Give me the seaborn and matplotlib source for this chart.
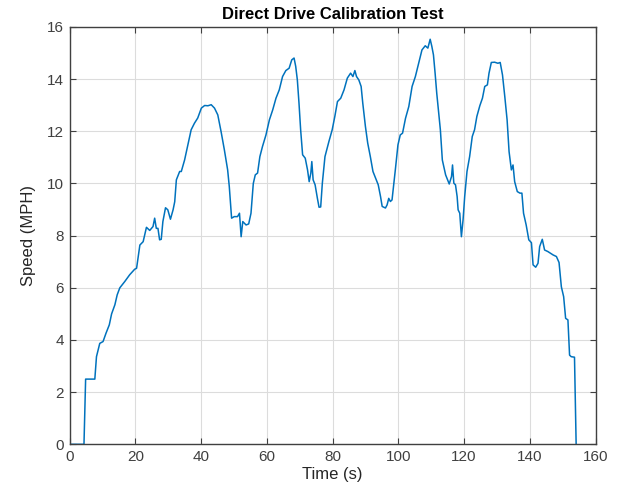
import matplotlib
matplotlib.use("Agg")
import matplotlib.pyplot as plt
import seaborn as sns
import pandas as pd

time_s = [0, 4.4, 4.9, 7.7, 8.2, 9.2, 10.2, 11.1, 12.1, 12.8, 13.8, 14.5, 15.3, 16.8, 18.3, 19.8,
          20.4, 21.4, 22.4, 23.4, 24.4, 25.4, 25.9, 26.4, 26.9, 27.4, 27.9, 28.4, 29.2, 29.9, 30.7,
          31.5, 32.0, 32.5, 33.5, 34.0, 35.0, 36.0, 37.0, 38.0, 39.0, 40.1, 41.1, 42.1, 43.1, 44.1,
          45.1, 46.1, 47.1, 48.1, 48.6, 49.3, 50.1, 51.1, 51.7, 52.2, 52.7, 53.7, 54.5, 55.2, 55.9,
          56.5, 57.2, 57.9, 58.7, 59.75, 60.8, 61.8, 62.8, 63.8, 64.8, 65.8, 66.8, 67.6, 68.3, 68.8,
          69.3, 69.8, 70.3, 70.9, 71.7, 72.4, 72.9, 73.4, 73.7, 74.1, 74.7, 75.4, 75.9, 76.4, 76.9,
          77.7, 78.9, 79.9, 80.7, 81.5, 82.5, 83.5, 84.5, 85.5, 86.2, 86.8, 87.3, 88.0, 88.7, 89.2,
          90.0, 90.7, 91.5, 92.3, 93.1, 93.9, 94.6, 95.1, 96.1, 96.6, 97.1, 97.6, 98.1, 99.1, 99.9,
          100.6, 101.3, 102.2, 103.2, 104.2, 105.2, 106.2, 107.2, 108.2, 109.0, 109.7, 110.2, 110.7,
          111.2, 111.7, 112.3, 112.8, 113.4, 114.4, 115.5, 116.2, 116.5, 116.9, 117.4, 117.9, 118.2,
          118.7, 119.2, 119.7, 120.2, 120.9, 121.7, 122.5, 123.2, 123.9, 124.8, 125.6, 126.3, 127.1,
          127.6, 128.3, 129.3, 130.3, 131.0, 131.7, 132.4, 133.1, 133.7, 134.4, 134.9, 135.4, 136.2,
          137.0, 137.6, 138.1, 138.9, 139.7, 140.5, 141.0, 141.8, 142.5, 143.0, 143.8, 144.5, 145.5,
          147.1, 148.1, 148.9, 149.6, 150.3, 150.9, 151.6, 152.1, 152.6, 153.6, 154.1]
speed_mph = [0, 0, 2.5, 2.5, 3.36, 3.87, 3.94, 4.26, 4.58, 5.0, 5.35, 5.73, 6.0, 6.24, 6.5, 6.71,
             6.75, 7.64, 7.77, 8.32, 8.2, 8.35, 8.67, 8.28, 8.28, 7.84, 7.86, 8.54, 9.07, 8.99, 8.63,
             8.99, 9.3, 10.14, 10.46, 10.46, 10.9, 11.48, 12.06, 12.31, 12.51, 12.89, 12.99, 12.98, 13.02, 12.89,
             12.63, 11.99, 11.29, 10.52, 9.88, 8.67, 8.73, 8.73, 8.86, 7.96, 8.54, 8.41, 8.45, 8.86, 10.0,
             10.33, 10.4, 11.03, 11.42, 11.86, 12.44, 12.82, 13.27, 13.59, 14.1, 14.33, 14.42, 14.74, 14.81, 14.49,
             13.97, 13.08, 12.06, 11.1, 10.97, 10.52, 10.07, 10.4, 10.84, 10.14, 9.95, 9.43, 9.09, 9.1, 10.01,
             11.03, 11.61, 12.06, 12.57, 13.14, 13.27, 13.59, 14.04, 14.23, 14.1, 14.33, 14.1, 13.97, 13.72, 13.08,
             12.19, 11.55, 11.03, 10.46, 10.2, 9.95, 9.5, 9.12, 9.06, 9.18, 9.43, 9.31, 9.37, 10.52, 11.48,
             11.86, 11.93, 12.5, 12.95, 13.72, 14.1, 14.61, 15.12, 15.28, 15.19, 15.53, 15.26, 14.93,
             14.23, 13.46, 12.7, 12.06, 10.9, 10.33, 9.98, 10.27, 10.71, 10.01, 9.95, 9.5, 8.99,
             8.86, 7.96, 8.6, 9.5, 10.46, 11.03, 11.8, 12.06, 12.57, 12.98, 13.27, 13.72, 13.78,
             14.23, 14.64, 14.65, 14.61, 14.64, 14.16, 13.33, 12.44, 11.22, 10.52, 10.71, 10.07, 9.69,
             9.63, 9.63, 8.86, 8.41, 7.84, 7.73, 6.88, 6.79, 6.94, 7.58, 7.86, 7.45, 7.39,
             7.26, 7.2, 6.97, 6.04, 5.66, 4.83, 4.77, 3.42, 3.36, 3.34, 0.0]

x_ticks = [0, 20, 40, 60, 80, 100, 120, 140, 160]
y_ticks = [0, 2, 4, 6, 8, 10, 12, 14, 16]

df = pd.DataFrame({"Time (s)": time_s, "Speed (MPH)": speed_mph})

sns.set_theme(style="white")
plt.rcParams["font.family"] = ["Liberation Sans", "DejaVu Sans"]

fig = plt.figure(figsize=(6.19, 4.98), dpi=100)
ax = fig.add_axes([0.1123, 0.1078, 0.8498, 0.838])

sns.lineplot(data=df, x="Time (s)", y="Speed (MPH)", ax=ax, color="#0072BD",
             linewidth=1.1, estimator=None, sort=False)

ax.set_xlim(0, 160)
ax.set_ylim(0, 16)
ax.set_xticks(x_ticks)
ax.set_yticks(y_ticks)
ax.grid(True, color="#dcdcdc", linewidth=0.8)
ax.set_axisbelow(True)
for s in ax.spines.values():
    s.set_color("#404040")
    s.set_linewidth(1.0)
    s.set_visible(True)
ax.tick_params(direction="in", length=4, width=0.8, color="#404040",
               labelsize=11, labelcolor="#404040", top=True, right=True,
               labeltop=False, labelright=False, bottom=True, left=True, pad=4)
ax.set_xlabel("Time (s)", fontsize=12, color="#262626", labelpad=2)
ax.set_ylabel("Speed (MPH)", fontsize=12, color="#262626", labelpad=8)
ax.set_title("Direct Drive Calibration Test", fontsize=12, fontweight="bold",
             color="black", pad=6)

fig.savefig("out.png", dpi=100, facecolor="white")
